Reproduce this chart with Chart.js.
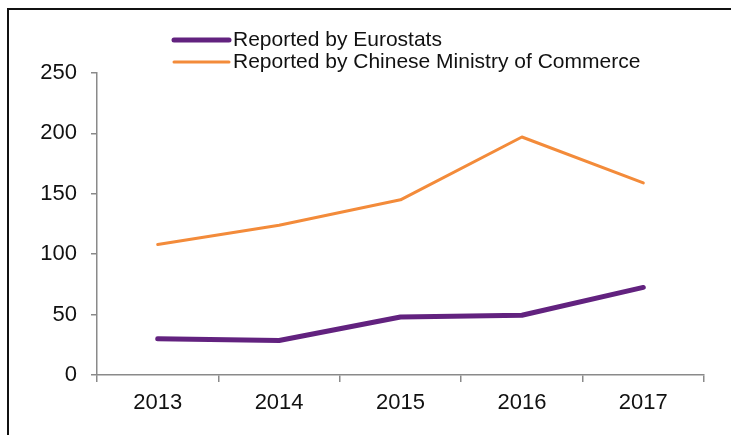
<!DOCTYPE html>
<html>
<head>
<meta charset="utf-8">
<script src="https://cdn.jsdelivr.net/npm/chart.js@4/dist/chart.umd.min.js"></script>
<style>
  html, body { margin: 0; padding: 0; background: #fff; }
  #wrap { position: relative; width: 731px; height: 435px; overflow: hidden; }
  #frame { position: absolute; left: 7px; top: 8px; width: 800px; height: 500px;
           border-top: 2px solid #111; border-left: 2px solid #111; }
  #c { position: absolute; left: 0; top: 0; }
</style>
</head>
<body>
<div id="wrap">
  <div id="frame"></div>
  <canvas id="c" width="731" height="435"></canvas>
</div>
<script>
const years = ['2013', '2014', '2015', '2016', '2017'];
const eurostats = [30, 28.5, 48, 49.5, 72.5];
const mofcom = [108, 124, 145, 197, 159];
const seriesNames = ['Reported by Eurostats', 'Reported by Chinese Ministry of Commerce'];
const yTicks = [0, 50, 100, 150, 200, 250];

const FONT = '"Liberation Sans", Arial, Helvetica, sans-serif';
const AXIS_GREY = '#8a8a8a';

// Two-row legend drawn above the plot: a short line sample followed by the series name
const lineLegend = {
  id: 'lineLegend',
  afterDraw(chart) {
    const ctx = chart.ctx;
    const x0 = 174, x1 = 229, textX = 233;
    const rows = [40, 62];
    ctx.save();
    chart.data.datasets.forEach((ds, i) => {
      const y = rows[i];
      ctx.strokeStyle = ds.borderColor;
      ctx.lineWidth = ds.borderWidth;
      ctx.lineCap = 'round';
      ctx.beginPath();
      ctx.moveTo(x0, y);
      ctx.lineTo(x1, y);
      ctx.stroke();
      ctx.fillStyle = '#111';
      ctx.font = '21px ' + FONT;
      ctx.textBaseline = 'middle';
      ctx.textAlign = 'left';
      ctx.fillText(ds.label, textX, y);
    });
    ctx.restore();
  }
};

new Chart(document.getElementById('c'), {
  type: 'line',
  data: {
    labels: years,
    datasets: [
      {
        label: seriesNames[0],
        data: eurostats,
        borderColor: '#62227f',
        borderWidth: 5,
        borderCapStyle: 'round',
        borderJoinStyle: 'round',
        pointRadius: 0,
        tension: 0
      },
      {
        label: seriesNames[1],
        data: mofcom,
        borderColor: '#f38b3a',
        borderWidth: 3,
        borderCapStyle: 'round',
        borderJoinStyle: 'round',
        pointRadius: 0,
        tension: 0
      }
    ]
  },
  options: {
    responsive: false,
    animation: false,
    devicePixelRatio: 1,
    layout: { padding: { left: 0, top: 73, right: 27, bottom: 0 } },
    plugins: {
      legend: { display: false },
      tooltip: { enabled: false }
    },
    scales: {
      x: {
        type: 'category',
        offset: true,
        afterFit(scale) { scale.height = 60; },
        grid: {
          offset: true,
          drawOnChartArea: false,
          drawTicks: true,
          tickLength: 7,
          color: AXIS_GREY,
          lineWidth: 1.5
        },
        border: { display: true, color: AXIS_GREY, width: 1.5 },
        ticks: {
          color: '#111',
          font: { family: FONT, size: 22 },
          padding: 8,
          maxRotation: 0
        }
      },
      y: {
        min: 0,
        max: 250,
        afterFit(scale) { scale.width = 97; },
        afterBuildTicks(scale) { scale.ticks = yTicks.map(v => ({ value: v })); },
        grid: {
          drawOnChartArea: false,
          drawTicks: true,
          tickLength: 6,
          color: AXIS_GREY,
          lineWidth: 1.5
        },
        border: { display: true, color: AXIS_GREY, width: 1.5 },
        ticks: {
          color: '#111',
          font: { family: FONT, size: 22 },
          padding: 14
        }
      }
    }
  },
  plugins: [lineLegend]
});
</script>
</body>
</html>
